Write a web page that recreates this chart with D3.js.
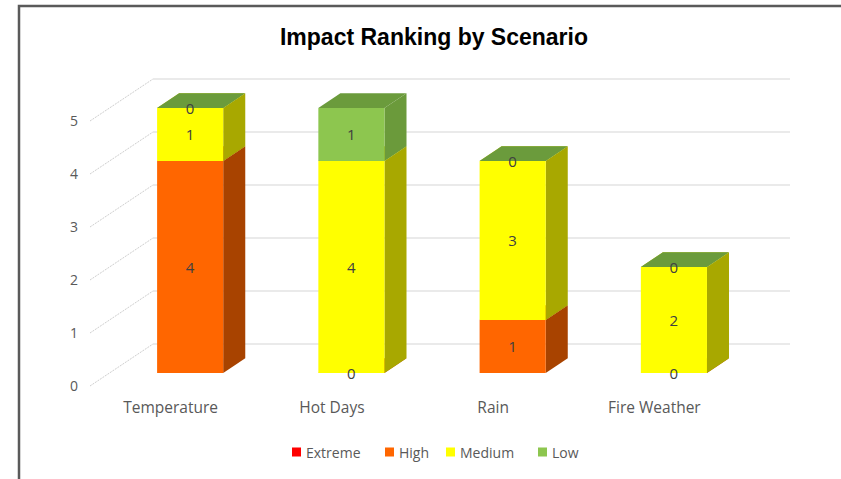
<!DOCTYPE html>
<html>
<head>
<meta charset="utf-8">
<script src="https://cdn.jsdelivr.net/npm/d3@7"></script>
<style>
  body { margin: 0; background: #fff; }
  svg { display: block; }
  .tick text { fill: #595959; }
</style>
</head>
<body>
<svg width="841" height="479"></svg>
<script>
const categories = ["Temperature", "Hot Days", "Rain", "Fire Weather"];
const seriesNames = ["Extreme", "High", "Medium", "Low"];
const extreme = [null, null, null, null];
const high    = [4, 0, 1, 0];
const medium  = [1, 4, 3, 2];
const low     = [0, 1, 0, 0];
const yTicks  = [0, 1, 2, 3, 4, 5];

const seriesValues = [extreme, high, medium, low];
const faceColors = {
  Extreme: {front: "#ff0000", side: "#a80000", top: "#c00000"},
  High:    {front: "#ff6600", side: "#a84300", top: "#c65000"},
  Medium:  {front: "#ffff00", side: "#a8a800", top: "#c8c800"},
  Low:     {front: "#8dc64f", side: "#6b9a3b", top: "#6b9b3c"}
};

let svg = d3.select("svg"),
    DX  = 63,  DY = 42,     // depth offset, front plane -> back wall
    Z0  = 0.31, Z1 = 0.66,  // bar depth range
    x   = d3.scaleBand()
            .domain(categories)
            .range([90, 735])
            .paddingInner(0.59)
            .paddingOuter(0.295),
    y   = d3.scaleLinear()
            .domain([0, 5])
            .range([386, 121]);

function P(px, v, z) { return [px + z * DX, y(v) - z * DY]; }

// frame
svg.append("path")
  .attr("d", "M19,479 V6 H841")
  .attr("fill", "none")
  .attr("stroke", "#5a5a5a")
  .attr("stroke-width", 2.5);

// title
svg.append("text")
  .attr("x", 434)
  .attr("y", 37)
  .attr("text-anchor", "middle")
  .attr("dominant-baseline", "central")
  .style("font-family", "'Liberation Sans', Arial, sans-serif")
  .style("font-weight", "bold")
  .style("font-size", "23px")
  .style("fill", "#000")
  .text("Impact Ranking by Scenario");

// walls: side wall diagonals and back wall gridlines
let grid = svg.append("g");
let xl = x.range()[0], xr = x.range()[1];
grid.selectAll(".diag")
  .data(yTicks)
  .enter().append("line")
    .attr("x1", xl).attr("y1", d => P(xl, d, 0)[1])
    .attr("x2", d => P(xl, d, 1)[0]).attr("y2", d => P(xl, d, 1)[1])
    .attr("stroke", "#cfcfcf")
    .attr("stroke-width", 1)
    .attr("stroke-dasharray", "2,1");
grid.selectAll(".back")
  .data(yTicks)
  .enter().append("line")
    .attr("x1", d => P(xl, d, 1)[0]).attr("y1", d => P(xl, d, 1)[1])
    .attr("x2", d => P(xr - 8, d, 1)[0]).attr("y2", d => P(xr, d, 1)[1])
    .attr("stroke", "#e3e3e3")
    .attr("stroke-width", 1.5);

// y axis labels
svg.append("g")
  .attr("transform", "translate(78,0)")
  .call(d3.axisLeft(y).tickValues(yTicks).tickFormat(d3.format("d")).tickSize(0).tickPadding(0))
  .call(g => g.select(".domain").remove())
  .selectAll("text")
    .style("font-family", "'Open Sans', sans-serif")
    .style("font-size", "14px");

// category labels
svg.append("g")
  .attr("transform", "translate(0,399)")
  .call(d3.axisBottom(x).tickSize(0).tickPadding(0))
  .call(g => g.select(".domain").remove())
  .selectAll("text")
    .attr("dy", "0.9em")
    .style("font-family", "'Open Sans', sans-serif")
    .style("font-size", "15.5px");

// stacked 3D bars
let poly = pts => "M" + pts.map(p => p.join(",")).join("L") + "Z";
let labels = [];

categories.forEach((cat, ci) => {
  let g  = svg.append("g"),
      x0 = x(cat),
      x1 = x(cat) + x.bandwidth(),
      base = 0;
  seriesNames.forEach((name, si) => {
    let v = seriesValues[si][ci];
    if (v === null) return;
    let lo = base, hi = base + v, c = faceColors[name];
    // side face
    g.append("path")
      .attr("d", poly([P(x1, lo, Z0), P(x1, lo, Z1), P(x1, hi, Z1), P(x1, hi, Z0)]))
      .attr("fill", c.side);
    // front face
    g.append("path")
      .attr("d", poly([P(x0, lo, Z0), P(x1, lo, Z0), P(x1, hi, Z0), P(x0, hi, Z0)]))
      .attr("fill", c.front);
    // top face
    g.append("path")
      .attr("d", poly([P(x0, hi, Z0), P(x1, hi, Z0), P(x1, hi, Z1), P(x0, hi, Z1)]))
      .attr("fill", c.top);
    let p = P(x0 + x.bandwidth() / 2, (lo + hi) / 2, Z0);
    labels.push({x: p[0], y: p[1], text: v});
    base = hi;
  });
});

svg.append("g").selectAll("text")
  .data(labels)
  .enter().append("text")
    .attr("x", d => d.x)
    .attr("y", d => d.y)
    .attr("text-anchor", "middle")
    .attr("dominant-baseline", "central")
    .style("font-family", "'Open Sans', sans-serif")
    .style("font-size", "15px")
    .style("fill", "#404040")
    .text(d => d.text);

// legend
let legend = svg.append("g").attr("transform", "translate(292,452)");
let legendX = [0, 93, 154, 246];
seriesNames.forEach((name, i) => {
  let item = legend.append("g").attr("transform", `translate(${legendX[i]},0)`);
  item.append("rect")
    .attr("x", 0).attr("y", -4.5)
    .attr("width", 9).attr("height", 9)
    .attr("fill", faceColors[name].front);
  item.append("text")
    .attr("x", 14)
    .attr("y", 0)
    .attr("dominant-baseline", "central")
    .style("font-family", "'Open Sans', sans-serif")
    .style("font-size", "14px")
    .style("fill", "#595959")
    .text(name);
});
</script>
</body>
</html>
